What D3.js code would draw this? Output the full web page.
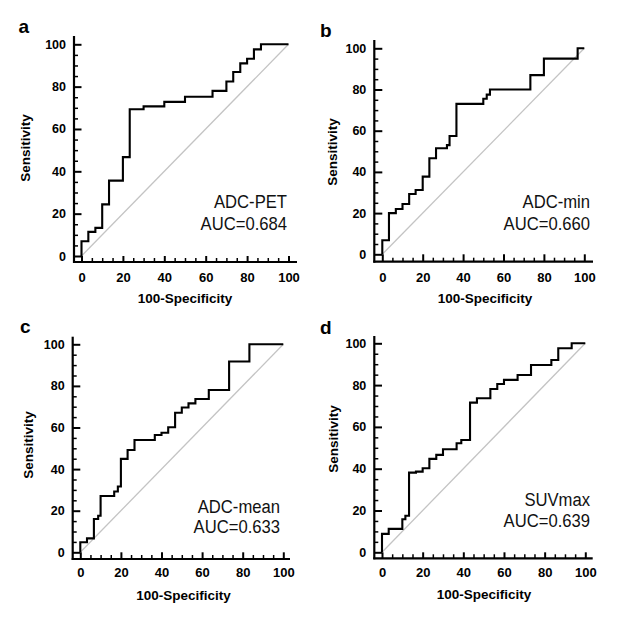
<!DOCTYPE html>
<html>
<head>
<meta charset="utf-8">
<script src="https://cdn.jsdelivr.net/npm/d3@7"></script>
<style>
  html, body { margin: 0; padding: 0; background: #fff; }
  svg { display: block; }
  text { font-family: "Liberation Sans", Arial, sans-serif; }
</style>
</head>
<body>
<svg id="chart" width="624" height="625"></svg>
<script>
// ---------------- data ----------------
const panelLetters = ["a", "b", "c", "d"];
const markerNames = ["ADC-PET", "ADC-min", "ADC-mean", "SUVmax"];
const aucLabels = ["AUC=0.684", "AUC=0.660", "AUC=0.633", "AUC=0.639"];
const xTickValues = [0, 20, 40, 60, 80, 100];
const yTickValues = [0, 20, 40, 60, 80, 100];
const xTitle = "100-Specificity";
const yTitle = "Sensitivity";

// ROC step vertices: 100-Specificity (x) and Sensitivity (y)
const rocA_x = [0, 0, 3.3, 6.7, 10, 13.3, 20, 23.3, 30, 40, 50, 63.3, 70, 73.3, 76.7, 80, 83.3, 86.7, 100];
const rocA_y = [0, 7, 11.4, 13.3, 24.4, 35.6, 46.7, 69.3, 70.7, 72.8, 75.2, 78, 82.4, 86.9, 91, 93.2, 97.6, 100, 100];

const rocB_x = [0, 0, 3.3, 6.7, 10, 13.3, 16.5, 20, 23.3, 26.6, 32, 33.3, 36.7, 50, 51.7, 53.3, 73.3, 80, 96.7, 100];
const rocB_y = [0, 6.8, 20, 22, 24.4, 29.3, 31.2, 37.7, 46.6, 51.5, 53, 57.4, 73, 75.5, 77.5, 80, 87, 95, 100, 100];

const rocC_x = [0, 0, 3.3, 6.7, 8.8, 10, 16.7, 18.5, 20, 23.3, 26.7, 36.7, 40, 43.3, 46.7, 50, 53.3, 56.7, 63.3, 73.3, 83.3, 100];
const rocC_y = [0, 4.8, 6.7, 16, 17.6, 27.1, 29.2, 31.6, 44.9, 49.2, 54, 56.4, 57.5, 60.1, 67.1, 69.6, 71.6, 73.7, 78, 91.7, 100, 100];

const rocD_x = [0, 0, 3.3, 10, 11.5, 13.3, 16.7, 20, 23.3, 26.7, 30, 36.7, 39, 43.3, 46.7, 53.3, 56.7, 60, 66.7, 73.3, 83.3, 86.7, 93.3, 100];
const rocD_y = [0, 8.8, 11.2, 15.8, 17.5, 38.1, 38.6, 40.2, 44.7, 46.6, 49.3, 52.2, 53.7, 71.6, 73.7, 78.1, 80.5, 82.5, 84.8, 89.6, 92, 97.6, 100, 100];

const rocX = [rocA_x, rocB_x, rocC_x, rocD_x];
const rocY = [rocA_y, rocB_y, rocC_y, rocD_y];

// ---------------- layout ----------------
const layout = [
  { x0: 81.5, x1: 288.5, y0: 256,   y1: 44.3,  axX: 74,    axY: 262,   top: 36,    right: 297,
    letter: [18.5, 33], ann: [287, 208, 230], yt: [30, 148], xt: [185, 303], xl: 282 },
  { x0: 382.3, x1: 584.3, y0: 254.3, y1: 48.3, axX: 374.3, axY: 261.7, top: 40,    right: 593,
    letter: [320, 37], ann: [590, 208, 230], yt: [336.5, 152], xt: [485, 303], xl: 282 },
  { x0: 80.3, x1: 283.3, y0: 552.3, y1: 344.3, axX: 72.7,  axY: 559,   top: 336.7, right: 290,
    letter: [20, 333], ann: [280, 513, 533], yt: [33, 445], xt: [183.5, 599.5], xl: 577 },
  { x0: 382, x1: 585.3, y0: 552.3, y1: 343.3,  axX: 374.3, axY: 558.3, top: 336,   right: 592.7,
    letter: [320, 334], ann: [590, 506, 527], yt: [338, 439], xt: [484, 599], xl: 577 }
];

const svg = d3.select("#chart");
svg.append("rect").attr("width", 624).attr("height", 625).attr("fill", "#fff");

const minorTicks = d3.range(0, 101, 5);

layout.forEach((L, i) => {
  const x = d3.scaleLinear().domain([0, 100]).range([L.x0, L.x1]);
  const y = d3.scaleLinear().domain([0, 100]).range([L.y0, L.y1]);
  const g = svg.append("g");

  // diagonal reference line
  g.append("line")
    .attr("x1", x(0)).attr("y1", y(0)).attr("x2", x(100)).attr("y2", y(100))
    .attr("stroke", "#c4c4c4").attr("stroke-width", 1.3);

  // ROC curve
  const pts = rocX[i].map((v, k) => [v, rocY[i][k]]);
  const line = d3.line().x(d => x(d[0])).y(d => y(d[1])).curve(d3.curveStepAfter);
  g.append("path").datum(pts)
    .attr("d", line)
    .attr("fill", "none").attr("stroke", "#000").attr("stroke-width", 2.1)
    .attr("stroke-linejoin", "miter");

  // y axis (major)
  const yAx = g.append("g").attr("transform", `translate(${L.axX},0)`)
    .call(d3.axisLeft(y).tickValues(yTickValues).tickSizeInner(-(L.x0 - L.axX)).tickSizeOuter(0).tickPadding(8));
  yAx.select(".domain").remove();
  yAx.selectAll(".tick line").attr("stroke", "#000").attr("stroke-width", 2);
  yAx.selectAll(".tick text").attr("font-size", 12.5).attr("font-weight", "bold").attr("fill", "#000")
    .style("font-family", '"Liberation Sans", Arial, sans-serif');
  // y minor
  const yMin = g.append("g").attr("transform", `translate(${L.axX},0)`)
    .call(d3.axisLeft(y).tickValues(minorTicks.filter(v => v % 20 !== 0)).tickSizeInner(-4).tickSizeOuter(0).tickFormat(""));
  yMin.select(".domain").remove();
  yMin.selectAll(".tick line").attr("stroke", "#000").attr("stroke-width", 1.5);

  // x axis (major)
  const xAx = g.append("g").attr("transform", `translate(0,${L.axY})`)
    .call(d3.axisBottom(x).tickValues(xTickValues).tickSizeInner(-(L.axY - L.y0)).tickSizeOuter(0).tickPadding(10));
  xAx.select(".domain").remove();
  xAx.selectAll(".tick line").attr("stroke", "#000").attr("stroke-width", 2);
  xAx.selectAll(".tick text").attr("font-size", 13).attr("font-weight", "bold").attr("fill", "#000")
    .attr("dy", null).attr("y", L.xl - L.axY)
    .style("font-family", '"Liberation Sans", Arial, sans-serif');
  // x minor
  const xMin = g.append("g").attr("transform", `translate(0,${L.axY})`)
    .call(d3.axisBottom(x).tickValues(minorTicks.filter(v => v % 20 !== 0)).tickSizeInner(-4).tickSizeOuter(0).tickFormat(""));
  xMin.select(".domain").remove();
  xMin.selectAll(".tick line").attr("stroke", "#000").attr("stroke-width", 1.5);

  // axis lines
  g.append("line").attr("x1", L.axX).attr("x2", L.axX).attr("y1", L.top).attr("y2", L.axY + 1)
    .attr("stroke", "#000").attr("stroke-width", 2.2);
  g.append("line").attr("x1", L.axX - 1).attr("x2", L.right).attr("y1", L.axY).attr("y2", L.axY)
    .attr("stroke", "#000").attr("stroke-width", 2.2);

  // axis titles
  g.append("text").attr("transform", `translate(${L.yt[0]},${L.yt[1]}) rotate(-90)`)
    .attr("text-anchor", "middle").attr("font-size", 13.5).attr("font-weight", "bold")
    .text(yTitle);
  g.append("text").attr("x", L.xt[0]).attr("y", L.xt[1])
    .attr("text-anchor", "middle").attr("font-size", 13.5).attr("font-weight", "bold")
    .text(xTitle);

  // panel letter
  g.append("text").attr("x", L.letter[0]).attr("y", L.letter[1])
    .attr("font-size", 19).attr("font-weight", "bold").text(panelLetters[i]);

  // annotation
  const ann = g.append("g").attr("transform", `translate(${L.ann[0]},0) scale(0.9,1)`);
  ann.append("text").attr("x", 0).attr("y", L.ann[1]).attr("text-anchor", "end")
    .attr("font-size", 18.5).attr("fill", "#111").text(markerNames[i]);
  ann.append("text").attr("x", 0).attr("y", L.ann[2]).attr("text-anchor", "end")
    .attr("font-size", 18.5).attr("fill", "#111").text(aucLabels[i]);
});
</script>
</body>
</html>
